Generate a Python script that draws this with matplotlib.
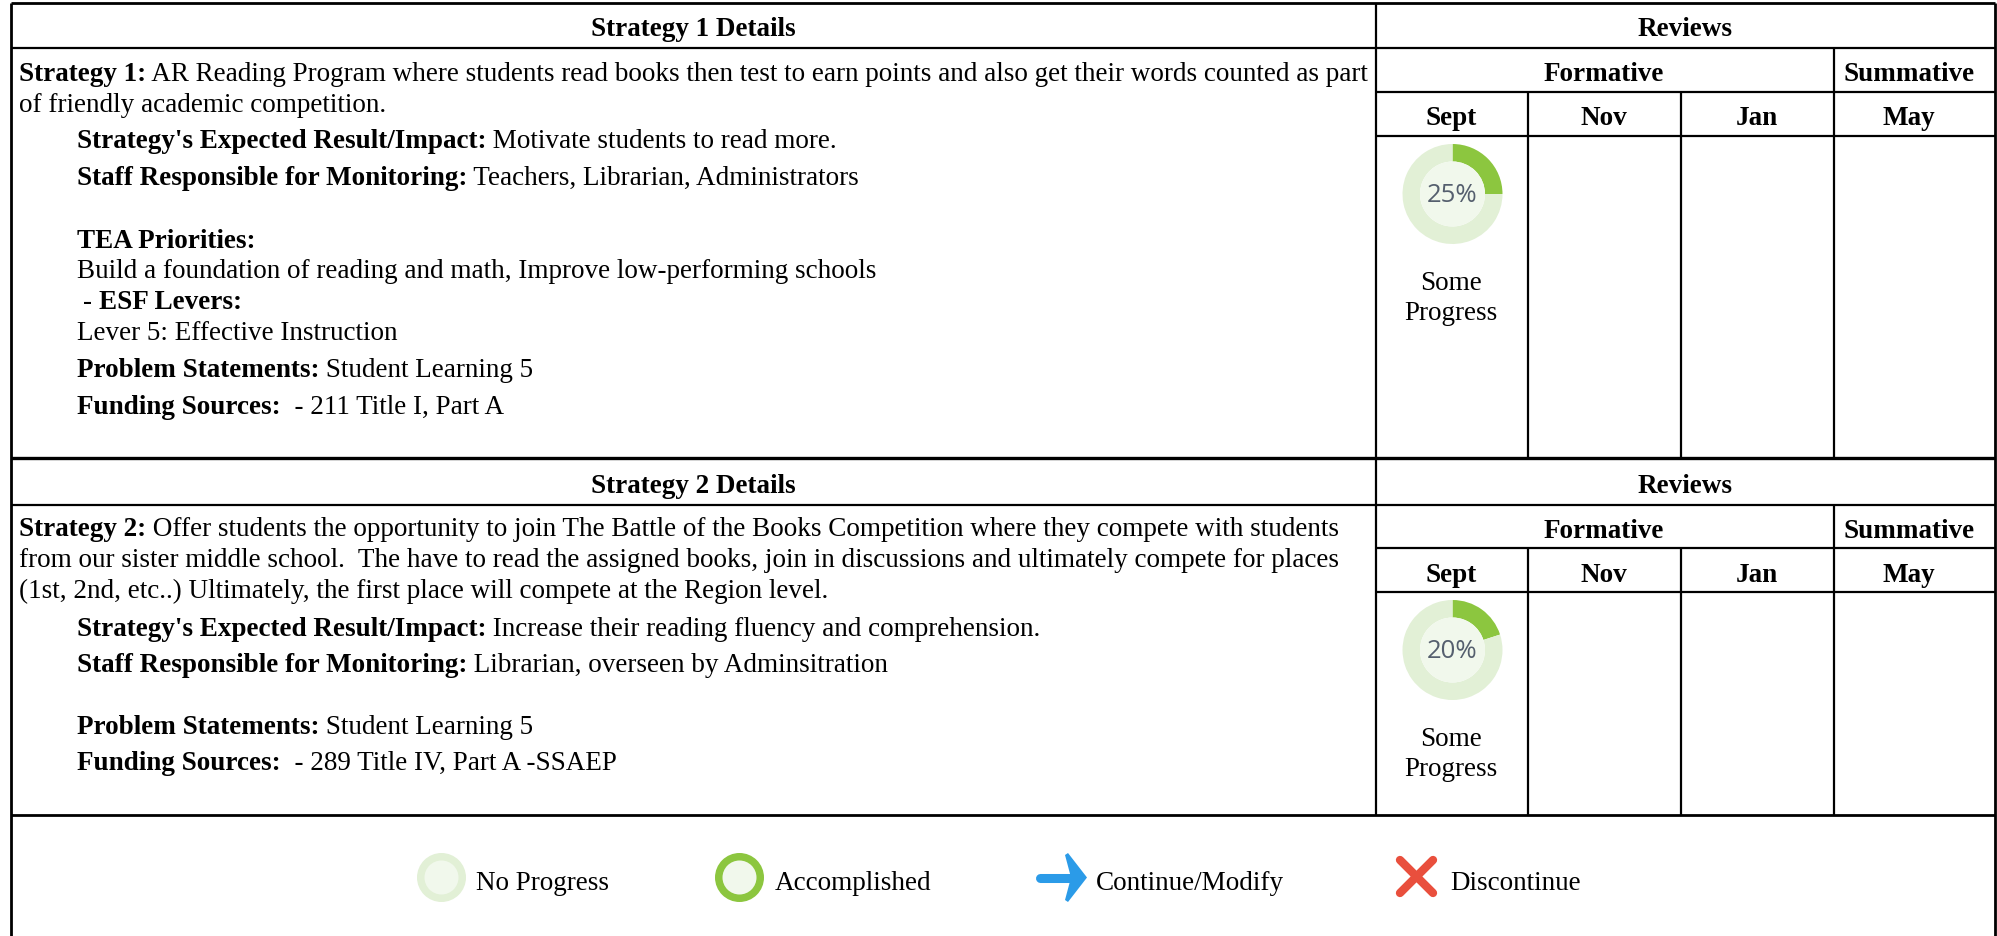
import matplotlib
matplotlib.use('Agg')
import matplotlib.pyplot as plt
from matplotlib.patches import Circle, Polygon

plt.rcParams['font.family'] = ['Liberation Serif', 'DejaVu Serif']

W, H = 1997, 937
FS = 19.55
BLACK = '#000000'
GREEN = '#8cc63f'
PALE = '#e2f0d6'
INNER = '#f1f8ec'
BLUE = '#2b9be8'
RED = '#e94f3d'

# each row: indent x, baseline y, then (text, bold) runs
strategy1_rows = [
    (19, 81, [('Strategy 1:', True), (' AR Reading Program where students read books then test to earn points and also get their words counted as part', False)]),
    (19, 112, [('of friendly academic competition.', False)]),
    (77, 148, [("Strategy's Expected Result/Impact:", True), (' Motivate students to read more.', False)]),
    (77, 185, [('Staff Responsible for Monitoring:', True), (' Teachers, Librarian, Administrators', False)]),
    (77, 248, [('TEA Priorities:', True)]),
    (77, 278, [('Build a foundation of reading and math, Improve low-performing schools', False)]),
    (83, 309, [('- ', False), ('ESF Levers:', True)]),
    (77, 340, [('Lever 5: Effective Instruction', False)]),
    (77, 377, [('Problem Statements:', True), (' Student Learning 5', False)]),
    (77, 414, [('Funding Sources:', True), ('  - 211 Title I, Part A', False)]),
]
strategy2_rows = [
    (19, 536, [('Strategy 2:', True), (' Offer students the opportunity to join The Battle of the Books Competition where they compete with students', False)]),
    (19, 567, [('from our sister middle school.  The have to read the assigned books, join in discussions and ultimately compete for places', False)]),
    (19, 598, [('(1st, 2nd, etc..) Ultimately, the first place will compete at the Region level.', False)]),
    (77, 636, [("Strategy's Expected Result/Impact:", True), (' Increase their reading fluency and comprehension.', False)]),
    (77, 672, [('Staff Responsible for Monitoring:', True), (' Librarian, overseen by Adminsitration', False)]),
    (77, 734, [('Problem Statements:', True), (' Student Learning 5', False)]),
    (77, 770, [('Funding Sources:', True), ('  - 289 Title IV, Part A -SSAEP', False)]),
]
months = ['Sept', 'Nov', 'Jan', 'May']
month_x = [1451, 1604, 1757, 1909]
progress = [25, 20]
legend_labels = ['No Progress', 'Accomplished', 'Continue/Modify', 'Discontinue']
legend_text_x = [476, 775, 1096, 1450]

fig = plt.figure(figsize=(W / 100, H / 100), dpi=100)
ax = fig.add_axes([0, 0, 1, 1])
ax.set_xlim(0, W)
ax.set_ylim(H, 0)
ax.axis('off')


def hline(y, x0=11, x1=1995, lw=1.6):
    ax.plot([x0, x1], [y, y], color=BLACK, lw=lw, solid_capstyle='butt')


def vline(x, y0, y1, lw=1.6):
    ax.plot([x, x], [y0, y1], color=BLACK, lw=lw, solid_capstyle='butt')


def runs(x, y, parts):
    r = fig.canvas.get_renderer()
    for s, bold in parts:
        t = ax.text(x, y, s, fontsize=FS, va='baseline', ha='left',
                    fontweight='bold' if bold else 'normal', color=BLACK)
        x = t.get_window_extent(r).x1


def center(x, y, s, bold=True):
    ax.text(x, y, s, fontsize=FS, va='baseline', ha='center',
            fontweight='bold' if bold else 'normal', color=BLACK)


def donut(cx, cy, pct):
    r = 50
    sub = fig.add_axes([(cx - r) / W, 1 - (cy + r) / H, 2 * r / W, 2 * r / H])
    sub.pie([pct, 100 - pct], colors=[GREEN, PALE], startangle=90, counterclock=False,
            radius=1, wedgeprops=dict(width=0.35))
    sub.add_patch(Circle((0, 0), 0.65, color=INNER, lw=0))
    sub.text(0, -0.02, '%d%%' % pct, ha='center', va='center', fontsize=18.5,
             family='Open Sans', color='#555f6e')
    sub.set_xlim(-1, 1)
    sub.set_ylim(-1, 1)


def block(top, head_y, row_y, label, rows, pct, bottom):
    # top: y of frame line, row_y: lines below the header band
    hline(row_y[0])
    hline(row_y[1], x0=1376)
    hline(row_y[2], x0=1376)
    vline(1376, top, bottom)
    vline(1528, row_y[1], bottom)
    vline(1681, row_y[1], bottom)
    vline(1834, row_y[0], bottom)
    center(693, head_y, label)
    center(1685, head_y, 'Reviews')
    center(1604, head_y + 45, 'Formative')
    center(1909, head_y + 45, 'Summative')
    for m, x in zip(months, month_x):
        center(x, head_y + 89, m)
    for x, y, parts in rows:
        runs(x, y, parts)
    donut(1452.5, row_y[2] + 58, pct)
    center(1451, row_y[2] + 153, 'Some', bold=False)
    center(1451, row_y[2] + 183, 'Progress', bold=False)


fig.canvas.draw()

# outer frame and the thick dividers
hline(4, lw=2.0)
vline(11, 4, 937, lw=2.0)
vline(1995, 4, 937, lw=2.0)
hline(459, lw=2.4)
hline(816, lw=2.0)

block(4, 36, [49, 93, 137], 'Strategy 1 Details', strategy1_rows, progress[0], 459)
block(459, 493, [506, 549, 593], 'Strategy 2 Details', strategy2_rows, progress[1], 816)

# legend icons
ax.add_patch(Circle((441.5, 878.5), 24.5, color=PALE, lw=0))
ax.add_patch(Circle((441.5, 878.5), 17, color=INNER, lw=0))
ax.add_patch(Circle((739.5, 878.5), 24.5, color=GREEN, lw=0))
ax.add_patch(Circle((739.5, 878.5), 17, color=INNER, lw=0))
ax.plot([1040, 1076], [878.5, 878.5], color=BLUE, lw=6.5, solid_capstyle='round')
ax.add_patch(Polygon([(1065, 856), (1068, 854), (1087, 878.5), (1068, 903), (1065, 901), (1071, 878.5)],
                     closed=True, color=BLUE, lw=0))
ax.plot([1400, 1433], [861, 894], color=RED, lw=6, solid_capstyle='round')
ax.plot([1433, 1400], [861, 894], color=RED, lw=6, solid_capstyle='round')
for s, x in zip(legend_labels, legend_text_x):
    ax.text(x, 890, s, fontsize=FS, va='baseline', ha='left', color=BLACK)

fig.savefig('out.png', dpi=100)
